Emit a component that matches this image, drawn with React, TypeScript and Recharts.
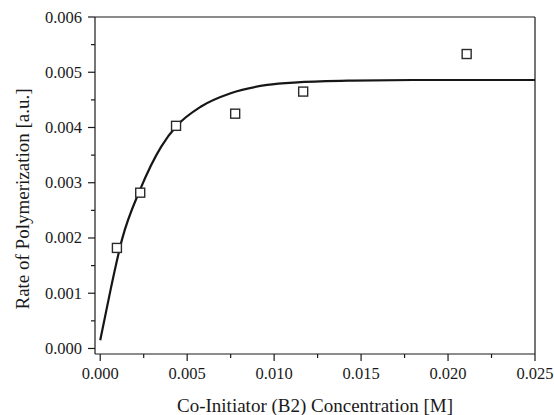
import React from 'react';
import { ComposedChart, Line, Scatter, XAxis, YAxis, ReferenceLine, Label } from 'recharts';

// measured points: concentration [M] vs rate [a.u.]
const pointX = [0.00096, 0.0023, 0.00436, 0.00776, 0.01167, 0.02107];
const pointY = [0.00182, 0.00282, 0.00403, 0.00425, 0.00465, 0.00533];

// fitted saturation curve, sampled along its length
const curveX = [0, 0.0006, 0.00125, 0.0023, 0.0035, 0.0044, 0.0058, 0.0075, 0.0096, 0.0115, 0.0145, 0.018, 0.025];
const curveY = [0.00015, 0.00107, 0.00197, 0.00288, 0.00365, 0.00403, 0.00438, 0.00462, 0.00477, 0.00482, 0.00485, 0.00486, 0.00486];

const xTicks = [0, 0.0025, 0.005, 0.0075, 0.01, 0.0125, 0.015, 0.0175, 0.02, 0.0225, 0.025];
const yTicks = [0, 0.0005, 0.001, 0.0015, 0.002, 0.0025, 0.003, 0.0035, 0.004, 0.0045, 0.005, 0.0055, 0.006];

const points = pointX.map((x, i) => ({ x, y: pointY[i] }));
const curve = curveX.map((x, i) => ({ x, y: curveY[i] }));

const FONT = '"Liberation Serif", "Times New Roman", serif';
const INK = '#1a1a1a';
const textStyle = { fontFamily: FONT, fill: INK };

const XTick = (props: any) => {
    const { x, y, payload } = props;
    const major = Math.round(payload.value * 10000) % 50 === 0;
    return (
        <g>
            <line x1={x} y1={y} x2={x} y2={y + (major ? 7 : 4)} stroke={INK} strokeWidth={1.2} />
            {major && (
                <text x={x} y={y + 25} textAnchor="middle" style={{ ...textStyle, fontSize: 16.5 }}>
                    {payload.value.toFixed(3)}
                </text>
            )}
        </g>
    );
};

const YTick = (props: any) => {
    const { x, y, payload } = props;
    const major = Math.round(payload.value * 10000) % 10 === 0;
    return (
        <g>
            <line x1={x} y1={y} x2={x - (major ? 7 : 4)} y2={y} stroke={INK} strokeWidth={1.2} />
            {major && (
                <text x={x - 13} y={y + 5.5} textAnchor="end" style={{ ...textStyle, fontSize: 16.5 }}>
                    {payload.value.toFixed(3)}
                </text>
            )}
        </g>
    );
};

const Square = (props: any) => {
    const { cx, cy } = props;
    return <rect x={cx - 4.5} y={cy - 4.5} width={9} height={9} fill="#fff" stroke="#2a2a2a" strokeWidth={1.4} />;
};

const YTitle = () => (
    <text
        x={22}
        y={199}
        transform="rotate(-90, 22, 199)"
        textAnchor="middle"
        dominantBaseline="central"
        style={{ ...textStyle, fontSize: 19 }}
    >
        Rate of Polymerization [a.u.]
    </text>
);

const XTitle = () => (
    <text x={315} y={405} textAnchor="middle" dominantBaseline="central" style={{ ...textStyle, fontSize: 19 }}>
        Co-Initiator (B2) Concentration [M]
    </text>
);

export default function App() {
    return (
        <div style={{ position: 'absolute', left: 0, top: 0, background: '#fff' }}>
            <ComposedChart width={554} height={415} margin={{ top: 17, right: 19, bottom: 0, left: 0 }}>
                <XAxis
                    dataKey="x"
                    type="number"
                    domain={[-0.0003, 0.025]}
                    ticks={xTicks}
                    interval={0}
                    allowDataOverflow
                    height={61}
                    tickSize={0}
                    tickMargin={0}
                    tick={<XTick />}
                    stroke={INK}
                    strokeWidth={1.2}
                >
                    <Label content={<XTitle />} />
                </XAxis>
                <YAxis
                    dataKey="y"
                    type="number"
                    domain={[-0.0001, 0.006]}
                    ticks={yTicks}
                    interval={0}
                    allowDataOverflow
                    width={95}
                    tickSize={0}
                    tickMargin={0}
                    tick={<YTick />}
                    stroke={INK}
                    strokeWidth={1.2}
                >
                    <Label content={<YTitle />} />
                </YAxis>
                <ReferenceLine y={0.006} stroke={INK} strokeWidth={1.2} />
                <ReferenceLine x={0.025} stroke={INK} strokeWidth={1.2} />
                <Line
                    data={curve}
                    dataKey="y"
                    type="monotone"
                    stroke="#161616"
                    strokeWidth={2.2}
                    dot={false}
                    activeDot={false}
                    isAnimationActive={false}
                />
                <Scatter data={points} dataKey="y" shape={<Square />} isAnimationActive={false} />
            </ComposedChart>
        </div>
    );
}
